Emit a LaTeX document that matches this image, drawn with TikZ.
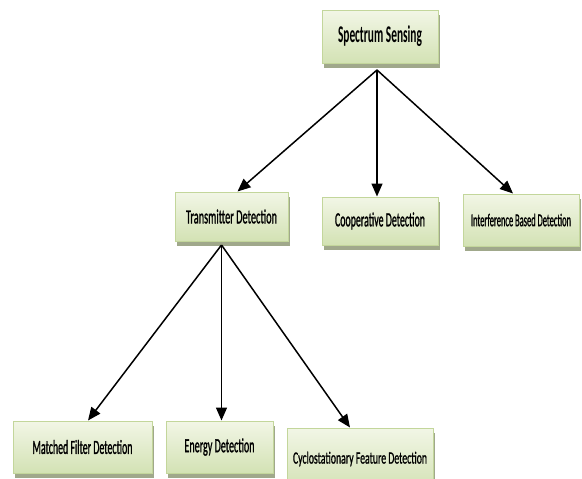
\documentclass[tikz,border=0pt]{standalone}
\usepackage{fontspec}
\setmainfont{Carlito}
\newfontfamily\heavy[FakeBold=1.6]{Carlito}
\usepackage{graphicx}
\usetikzlibrary{arrows.meta,shadows}
\definecolor{bordc}{HTML}{C3D69B}
\definecolor{topc}{HTML}{F2F6E6}
\definecolor{botc}{HTML}{D3E2B4}
\definecolor{shadc}{HTML}{A0A88B}
\newcommand{\tx}[3]{\resizebox{#1}{\height}{\fontsize{#2}{#2}\selectfont #3}}
\tikzset{
  box/.style={rectangle, draw=bordc, line width=1pt, top color=topc, bottom color=botc,
    inner sep=0pt, text=black,
    drop shadow={shadow xshift=2pt, shadow yshift=-5pt, fill=shadc, opacity=1}},
  arr/.style={line width=1.5pt, -{Triangle[length=13pt,width=11pt]}}
}
\begin{document}
\begin{tikzpicture}[x=1pt,y=-1pt]
\useasboundingbox (0,0) rectangle (582,479);
\node[box, minimum width=116pt, minimum height=53pt] (ss) at (380,36.5)
  {\tx{84pt}{24}{\bfseries Spectrum Sensing}};
\node[box, minimum width=113pt, minimum height=49pt] (td) at (231.5,216.5)
  {\tx{91pt}{20}{\heavy Transmitter Detection}};
\node[box, minimum width=116pt, minimum height=48pt] (cd) at (380,221)
  {\tx{90pt}{20}{\heavy Cooperative Detection}};
\node[box, minimum width=116pt, minimum height=52pt] (ib) at (521,220)
  {\tx{100pt}{18}{\heavy Interference Based Detection}};
\node[box, minimum width=139pt, minimum height=52pt] (mf) at (82.5,447)
  {\tx{100pt}{20}{\heavy Matched Filter Detection}};
\node[box, minimum width=107pt, minimum height=52pt] (ed) at (219.5,447)
  {\tx{70pt}{20}{\heavy Energy Detection}};
\node[box, minimum width=146pt, minimum height=62pt] (cf) at (360,459)
  {\tx{134pt}{17}{\heavy Cyclostationary Feature Detection}};
\coordinate (sa) at (377,70);
\coordinate (ta) at (221.5,245);
\draw[arr] (sa) -- ([xshift=6pt]td.north);
\draw[arr] (sa) -- (cd.north -| sa);
\draw[arr] (sa) -- ([xshift=-8pt]ib.north);
\draw[arr] (ta) -- (mf.north -| 88,0);
\draw[arr] (ta) -- (ed.north -| ta);
\draw[arr] (ta) -- (cf.north -| 350,0);
\end{tikzpicture}
\end{document}
